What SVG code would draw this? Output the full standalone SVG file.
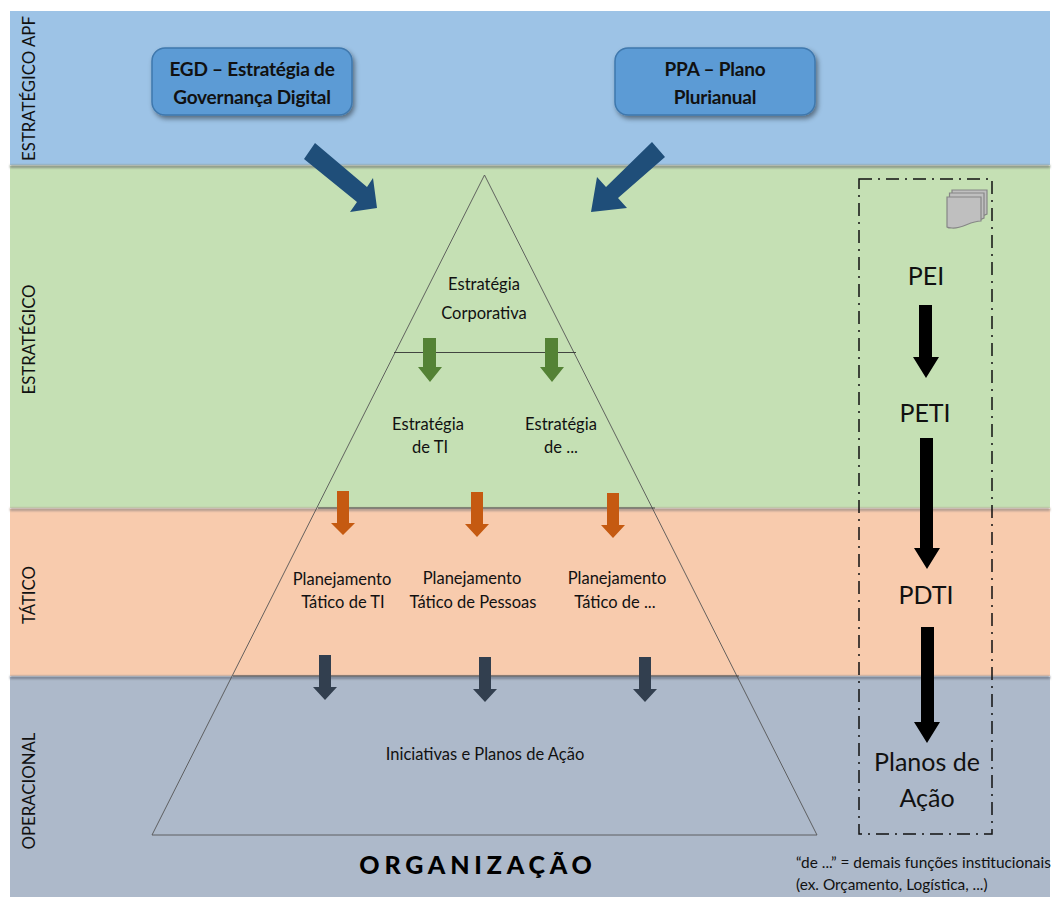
<svg xmlns="http://www.w3.org/2000/svg" width="1052" height="897" viewBox="0 0 1052 897">
<style>
text{font-family:Lato,"Noto Sans",sans-serif;fill:#111;text-anchor:middle}
.lbl{font-size:16.500px}
.side{font-size:16.800px}
.big{font-size:25px}
.box{font-size:19px;font-weight:700;letter-spacing:-.2px}
.note{font-size:15.400px;text-anchor:start}
.box-r{stroke:#3f78ad;stroke-width:1.500;filter:url(#sh)}
.pg{fill:#bfbfbf;stroke:#868686;stroke-width:1.200}
</style>
<defs>
<filter id="sh" x="-10%" y="-10%" width="125%" height="130%"><feDropShadow dx="2" dy="3" stdDeviation="2.500" flood-color="#000" flood-opacity=".45"/></filter>
<filter id="blur" x="-2%" y="-100%" width="104%" height="300%"><feGaussianBlur stdDeviation="1"/></filter>
</defs>
<rect width="1052" height="897" fill="#fff"/>
<g id="bands">
<rect x="10" y="11" width="1040" height="154" fill="#9dc3e6"/>
<rect x="10" y="166" width="1040" height="342" fill="#c5e0b4"/>
<rect x="10" y="509" width="1040" height="167" fill="#f8cbad"/>
<rect x="10" y="677" width="1040" height="220" fill="#adb9ca"/>
<rect x="10" y="165" width="1040" height="3" fill="#8a9585" filter="url(#blur)"/>
<rect x="10" y="508" width="1040" height="3" fill="#b09a8e" filter="url(#blur)"/>
<rect x="10" y="676" width="1040" height="3" fill="#7a8494" filter="url(#blur)"/>
</g>
<g id="band-labels">
<text class="side" transform="translate(35,88.500) rotate(-90)">ESTRATÉGICO APF</text>
<text class="side" transform="translate(35,339.500) rotate(-90)">ESTRATÉGICO</text>
<text class="side" transform="translate(35,595) rotate(-90)">TÁTICO</text>
<text class="side" transform="translate(35,791) rotate(-90)">OPERACIONAL</text>
</g>
<g id="pyramid" fill="none" stroke="#555" stroke-width=".9">
<path d="M484.500 175 L817 835 H152 Z"/>
<path d="M394 352.500 H576 M318 508 H655 M233 676 H739" stroke="#333"/>
</g>
<g id="node-egd">
<rect class="box-r" x="152" y="48" width="200" height="67" rx="13" fill="#5b9bd5"/>
<text class="box" x="252" y="76">EGD – Estratégia de</text>
<text class="box" x="252" y="104">Governança Digital</text>
</g>
<g id="node-ppa">
<rect class="box-r" x="615" y="48" width="200" height="67" rx="13" fill="#5b9bd5"/>
<text class="box" x="715" y="76">PPA – Plano</text>
<text class="box" x="715" y="104">Plurianual</text>
</g>
<g id="connectors">
<g fill="#1f4e79">
<path d="M315 143 L367 187 L373 178 L377 208 L350 212 L357 202 L304 159 Z"/>
<path d="M652 142 L665 157 L618 198 L627 208 L591 212 L597 177 L606 187 Z"/>
</g>
<g fill="#548235">
<path d="M423 338H436V367H442L430 382L418 367H423Z"/>
<path d="M545 338H558V367H564L552 382L540 367H545Z"/>
</g>
<g fill="#c55a11">
<path d="M337 491H349V523H355L343 535L331 523H337Z"/>
<path d="M471 492H483V524H489L477 537L465 524H471Z"/>
<path d="M607 493H619V525H625L613 538L601 525H607Z"/>
</g>
<g fill="#323f4f">
<path d="M319 655H331V687H337L325 700L313 687H319Z"/>
<path d="M479 657H491V689H497L485 702L473 689H479Z"/>
<path d="M639 657H651V689H657L645 702L633 689H639Z"/>
</g>
<g fill="#000">
<path d="M919 305H932V357H939L926 378L913 357H919Z"/>
<path d="M920 438H933V548H940L927 569L914 548H920Z"/>
<path d="M921 627H934V722H940L927 743L914 722H921Z"/>
</g>
</g>
<g id="node-estrategia-corp"><text class="lbl" x="484" y="290">Estratégia</text><text class="lbl" x="484" y="319">Corporativa</text></g>
<g id="node-estrategia-ti"><text class="lbl" x="428" y="430">Estratégia</text><text class="lbl" x="430" y="453">de TI</text></g>
<g id="node-estrategia-de"><text class="lbl" x="561" y="430">Estratégia</text><text class="lbl" x="561" y="453">de ...</text></g>
<g id="node-tat-ti"><text class="lbl" x="342" y="585">Planejamento</text><text class="lbl" x="343" y="608">Tático de TI</text></g>
<g id="node-tat-pes"><text class="lbl" x="472" y="584">Planejamento</text><text class="lbl" x="473" y="608">Tático de Pessoas</text></g>
<g id="node-tat-de"><text class="lbl" x="617" y="584">Planejamento</text><text class="lbl" x="615" y="608">Tático de ...</text></g>
<g id="node-iniciativas"><text class="lbl" x="485" y="760">Iniciativas e Planos de Ação</text></g>
<text x="478" y="874" style="font-size:25px;font-weight:900;letter-spacing:4.800px;fill:#000">ORGANIZAÇÃO</text>
<g id="node-docs">
<rect x="859" y="179" width="133" height="655" fill="none" stroke="#111" stroke-width="1.500" stroke-dasharray="13 6 2 6"/>
<path class="pg" d="M952 190H987V214L982 216V196H952Z"/>
<path class="pg" d="M949.500 193H984V218L979 220V199H949.500Z"/>
<path class="pg" d="M947 197H981V221C970 221 962 229 952 228C950 228 948 228 947 227Z"/>
</g>
<g id="node-pei"><text class="big" x="926" y="285">PEI</text></g>
<g id="node-peti"><text class="big" x="925" y="422">PETI</text></g>
<g id="node-pdti"><text class="big" x="926" y="604">PDTI</text></g>
<g id="node-planos"><text class="big" x="927" y="771">Planos de</text><text class="big" x="927" y="807">Ação</text></g>
<g id="note"><text class="note" x="796" y="868">“de ...” = demais funções institucionais</text><text class="note" x="796" y="890">(ex. Orçamento, Logística, ...)</text></g>
</svg>
